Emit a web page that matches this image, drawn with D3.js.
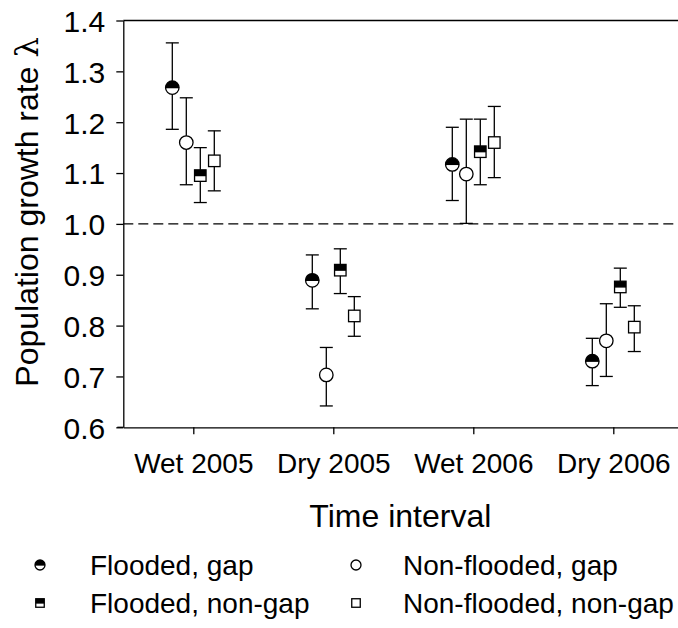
<!DOCTYPE html>
<html>
<head>
<meta charset="utf-8">
<script src="https://cdn.jsdelivr.net/npm/d3@7"></script>
<style>
  html, body { margin: 0; padding: 0; background: #fff; }
  svg { display: block; }
  text { font-family: "Liberation Sans", Arial, sans-serif; fill: #000; }
</style>
</head>
<body>
<svg id="chart" width="678" height="628"></svg>
<script>
// Time intervals on the x axis
const categories = ["Wet 2005", "Dry 2005", "Wet 2006", "Dry 2006"];
const yTicks = [0.6, 0.7, 0.8, 0.9, 1.0, 1.1, 1.2, 1.3, 1.4];

// Population growth rate (lambda) with confidence bounds per group
const floodedGap      = [1.268, 0.889, 1.117, 0.730];
const floodedGapLo    = [1.186, 0.833, 1.046, 0.682];
const floodedGapHi    = [1.356, 0.939, 1.190, 0.775];

const nonFloodedGap   = [1.160, 0.703, 1.098, 0.770];
const nonFloodedGapLo = [1.077, 0.642, 1.001, 0.700];
const nonFloodedGapHi = [1.248, 0.757, 1.206, 0.843];

const floodedNonGap   = [1.095, 0.909, 1.142, 0.876];
const floodedNonGapLo = [1.042, 0.863, 1.077, 0.836];
const floodedNonGapHi = [1.150, 0.951, 1.206, 0.913];

const nonFloodedNonGap   = [1.124, 0.819, 1.160, 0.797];
const nonFloodedNonGapLo = [1.065, 0.779, 1.091, 0.749];
const nonFloodedNonGapHi = [1.183, 0.857, 1.231, 0.839];

const groups = [
  { name: "Flooded, gap",         shape: "circle", half: true,  offset: -0.15, v: floodedGap,       lo: floodedGapLo,       hi: floodedGapHi },
  { name: "Non-flooded, gap",     shape: "circle", half: false, offset: -0.05, v: nonFloodedGap,    lo: nonFloodedGapLo,    hi: nonFloodedGapHi },
  { name: "Flooded, non-gap",     shape: "square", half: true,  offset:  0.05, v: floodedNonGap,    lo: floodedNonGapLo,    hi: floodedNonGapHi },
  { name: "Non-flooded, non-gap", shape: "square", half: false, offset:  0.15, v: nonFloodedNonGap, lo: nonFloodedNonGapLo, hi: nonFloodedNonGapHi }
];

const svg = d3.select("#chart");
const mLeft = 123.3, mRight = 683.3, mTop = 20.5, mBottom = 427.3;

const x = d3.scaleLinear().domain([0.5, 4.5]).range([mLeft, mRight]);
const y = d3.scaleLinear().domain([0.6, 1.4]).range([mBottom, mTop]);

// Y axis
const yAxis = svg.append("g")
  .attr("transform", `translate(${mLeft},0)`)
  .call(d3.axisLeft(y).tickValues(yTicks).tickFormat(d3.format(".1f")).tickSize(7).tickPadding(11).tickSizeOuter(0));
yAxis.select(".domain").attr("stroke", "#000").attr("stroke-width", 1.3);
yAxis.selectAll(".tick line").attr("stroke", "#000").attr("stroke-width", 1.3);
yAxis.selectAll(".tick text").style("font-size", "30px").attr("dy", "0.36em");

// X axis
const xAxis = svg.append("g")
  .attr("transform", `translate(0,${mBottom})`)
  .call(d3.axisBottom(x).tickValues([1, 2, 3, 4]).tickFormat((d) => categories[d - 1]).tickSize(7).tickPadding(19).tickSizeOuter(0));
xAxis.select(".domain").attr("stroke", "#000").attr("stroke-width", 1.3);
xAxis.selectAll(".tick line").attr("stroke", "#000").attr("stroke-width", 1.3);
xAxis.selectAll(".tick text").style("font-size", "28px");

// left extension of the baseline and top frame line
svg.append("line").attr("x1", mLeft - 6).attr("x2", mLeft).attr("y1", mBottom).attr("y2", mBottom)
  .attr("stroke", "#000").attr("stroke-width", 1.3);
svg.append("line").attr("x1", mLeft).attr("x2", 678).attr("y1", y(1.4)).attr("y2", y(1.4))
  .attr("stroke", "#000").attr("stroke-width", 1.3);

// Reference line at lambda = 1
svg.append("line")
  .attr("x1", mLeft).attr("x2", 678)
  .attr("y1", y(1.0)).attr("y2", y(1.0))
  .attr("stroke", "#000").attr("stroke-width", 1.3)
  .attr("stroke-dasharray", "10,5");

// Axis titles
svg.append("text")
  .attr("transform", "translate(38,212) rotate(-90)")
  .attr("text-anchor", "middle")
  .style("font-size", "32px")
  .html('Population growth rate <tspan style="font-family: \'DejaVu Serif\', serif">λ</tspan>');

svg.append("text")
  .attr("x", (mLeft + mRight) / 2 - 3)
  .attr("y", 527)
  .attr("text-anchor", "middle")
  .style("font-size", "32px")
  .text("Time interval");

// Marker drawing helper
function drawMarker(g, shape, half, cx, cy, size) {
  const sw = 1.3;
  if (shape === "circle") {
    const r = size / 2;
    g.append("circle").attr("cx", cx).attr("cy", cy).attr("r", r).attr("fill", "#fff").attr("stroke", "none");
    if (half) {
      g.append("path")
        .attr("d", `M${cx - r},${cy} A${r},${r} 0 0 1 ${cx + r},${cy} Z`)
        .attr("fill", "#000");
      g.append("line").attr("x1", cx - r).attr("x2", cx + r).attr("y1", cy).attr("y2", cy)
        .attr("stroke", "#000").attr("stroke-width", sw);
    }
    g.append("circle").attr("cx", cx).attr("cy", cy).attr("r", r).attr("fill", "none")
      .attr("stroke", "#000").attr("stroke-width", sw);
  } else {
    const h = size / 2;
    g.append("rect").attr("x", cx - h).attr("y", cy - h).attr("width", size).attr("height", size)
      .attr("fill", "#fff").attr("stroke", "none");
    if (half) {
      g.append("rect").attr("x", cx - h).attr("y", cy - h).attr("width", size).attr("height", h)
        .attr("fill", "#000");
      g.append("line").attr("x1", cx - h).attr("x2", cx + h).attr("y1", cy).attr("y2", cy)
        .attr("stroke", "#000").attr("stroke-width", sw);
    }
    g.append("rect").attr("x", cx - h).attr("y", cy - h).attr("width", size).attr("height", size)
      .attr("fill", "none").attr("stroke", "#000").attr("stroke-width", sw);
  }
}

// Error bars and points
const plot = svg.append("g");
const capHalf = 6.5;
groups.forEach((grp) => {
  categories.forEach((c, i) => {
    const cx = x(i + 1 + grp.offset);
    const gg = plot.append("g");
    gg.append("line").attr("x1", cx).attr("x2", cx).attr("y1", y(grp.lo[i])).attr("y2", y(grp.hi[i]))
      .attr("stroke", "#000").attr("stroke-width", 1.3);
    [grp.lo[i], grp.hi[i]].forEach((v) => {
      gg.append("line").attr("x1", cx - capHalf).attr("x2", cx + capHalf).attr("y1", y(v)).attr("y2", y(v))
        .attr("stroke", "#000").attr("stroke-width", 1.3);
    });
    drawMarker(gg, grp.shape, grp.half, cx, y(grp.v[i]), grp.shape === "circle" ? 13.5 : 11.5);
  });
});

// Legend, two columns
const legendPos = [
  { mx: 40, tx: 90, y: 565 },
  { mx: 356, tx: 403, y: 565 },
  { mx: 40, tx: 90, y: 603 },
  { mx: 356, tx: 403, y: 603 }
];
groups.forEach((grp, k) => {
  const p = legendPos[k];
  const lg = svg.append("g");
  drawMarker(lg, grp.shape, grp.half, p.mx, p.y, grp.shape === "circle" ? 10 : 8.5);
  lg.append("text").attr("x", p.tx).attr("y", p.y).attr("dy", "0.36em")
    .style("font-size", "28px").text(grp.name);
});
</script>
</body>
</html>
